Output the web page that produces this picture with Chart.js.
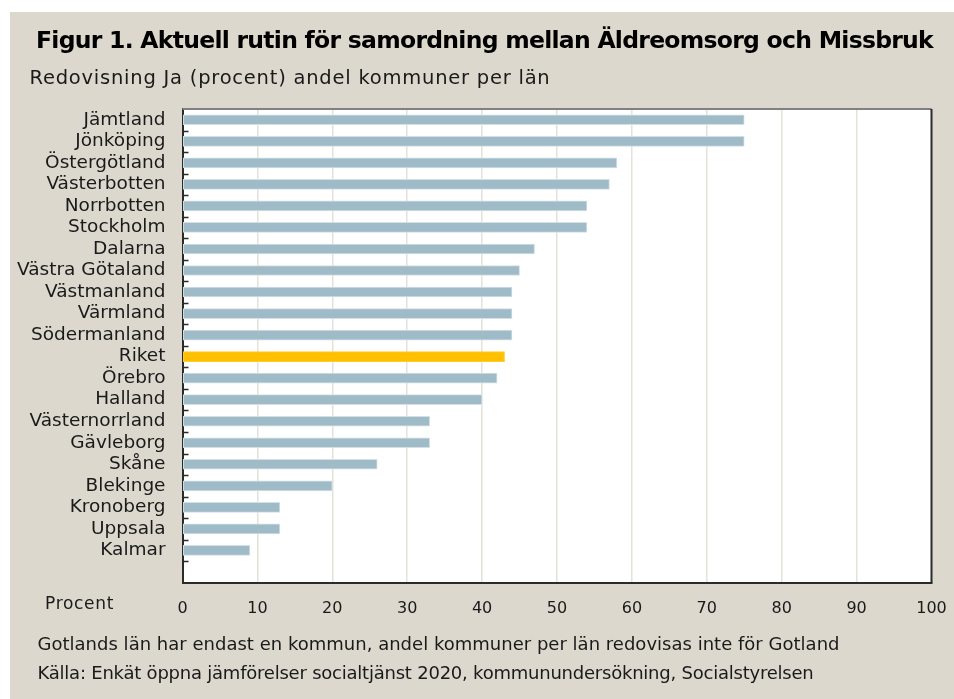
<!DOCTYPE html>
<html>
<head>
<meta charset="utf-8">
<script src="https://cdn.jsdelivr.net/npm/chart.js@4.4.1/dist/chart.umd.min.js"></script>
<style>
  body { margin: 0; background: #fff; }
  #wrap { position: relative; width: 954px; height: 699px; overflow: hidden; }
  #bg { position: absolute; left: 10px; top: 12px; right: 0; bottom: 0; background: #ddd8cd; }
  canvas { position: absolute; left: 0; top: 0; }
  .txt { position: absolute; white-space: nowrap; color: #1a1a1a; font-family: "DejaVu Sans", sans-serif; line-height: 1; }
</style>
</head>
<body>
<div id="wrap">
  <div id="bg"></div>
  <canvas id="chart" width="954" height="699"></canvas>
  <div class="txt" data-w="897" style="left:36px; top:29.4px; font-size:23.5px; font-weight:bold; color:#000;">Figur 1. Aktuell rutin för samordning mellan Äldreomsorg och Missbruk</div>
  <div class="txt" data-w="521" style="left:29.5px; top:67.8px; font-size:19.5px;">Redovisning Ja (procent) andel kommuner per län</div>
  <div class="txt" data-w="69" style="left:45px; top:594.9px; font-size:17px;">Procent</div>
  <div class="txt" data-w="802" style="left:37.5px; top:634.8px; font-size:18px;">Gotlands län har endast en kommun, andel kommuner per län redovisas inte för Gotland</div>
  <div class="txt" data-w="776" style="left:37.5px; top:664.1px; font-size:18px;">Källa: Enkät öppna jämförelser socialtjänst 2020, kommunundersökning, Socialstyrelsen</div>
</div>
<script>
// län i samma ordning som i figuren, sista raden tom (Gotland redovisas inte)
const categories = ['Jämtland', 'Jönköping', 'Östergötland', 'Västerbotten', 'Norrbotten', 'Stockholm',
  'Dalarna', 'Västra Götaland', 'Västmanland', 'Värmland', 'Södermanland', 'Riket', 'Örebro', 'Halland',
  'Västernorrland', 'Gävleborg', 'Skåne', 'Blekinge', 'Kronoberg', 'Uppsala', 'Kalmar', ''];
const values = [75, 75, 58, 57, 54, 54, 47, 45, 44, 44, 44, 43, 42, 40, 33, 33, 26, 20, 13, 13, 9, null];
const xTicks = [0, 10, 20, 30, 40, 50, 60, 70, 80, 90, 100];

const barColor = '#9fbbc7';
const riketColor = '#ffc000';

// textbredd justeras så att den motsvarar originalet
document.querySelectorAll('.txt[data-w]').forEach(el => {
  const w = el.getBoundingClientRect().width;
  el.style.letterSpacing = ((+el.dataset.w - w) / el.textContent.length) + 'px';
});

// vit plotyta, ram och små streck innanför y-axeln
const plotFrame = {
  id: 'plotFrame',
  beforeDraw(chart) {
    const { ctx, chartArea: a } = chart;
    ctx.save();
    ctx.fillStyle = '#fff';
    ctx.fillRect(a.left, a.top, a.right - a.left, a.bottom - a.top);
    ctx.restore();
  },
  afterDraw(chart) {
    const { ctx, chartArea: a } = chart;
    const y = chart.scales.y;
    ctx.save();
    ctx.lineWidth = 2;
    ctx.strokeStyle = '#808080';
    ctx.beginPath();
    ctx.moveTo(a.left, a.top);
    ctx.lineTo(a.right, a.top);
    ctx.stroke();
    ctx.strokeStyle = '#2b2b2b';
    ctx.beginPath();
    ctx.moveTo(a.right, a.top);
    ctx.lineTo(a.right, a.bottom);
    ctx.stroke();
    ctx.lineWidth = 1.5;
    ctx.beginPath();
    for (let i = 1; i < categories.length; i++) {
      const py = Math.round(y.getPixelForValue(i - 0.5)) + 0.5;
      ctx.moveTo(a.left, py);
      ctx.lineTo(a.left + 6, py);
    }
    ctx.stroke();
    ctx.restore();
  }
};

new Chart(document.getElementById('chart'), {
  type: 'bar',
  data: {
    labels: categories,
    datasets: [{
      data: values,
      backgroundColor: categories.map(c => c === 'Riket' ? riketColor : barColor),
      borderColor: categories.map(c => c === 'Riket' ? '#ffcc33' : '#d3e0e6'),
      borderWidth: 1,
      borderSkipped: false,
      barThickness: 10
    }]
  },
  options: {
    indexAxis: 'y',
    responsive: false,
    animation: false,
    events: [],
    layout: { padding: { left: 0, top: 109, right: 22.5, bottom: 76.3 } },
    scales: {
      x: {
        min: 0,
        max: 100,
        afterBuildTicks: scale => { scale.ticks = xTicks.map(v => ({ value: v })); },
        afterFit: scale => {
          scale.height = 40;
          scale.paddingLeft = 0;
          scale.paddingRight = 0;
        },
        grid: {
          color: ctx => (ctx.tick && (ctx.tick.value === 0 || ctx.tick.value === 100)) ? 'rgba(0,0,0,0)' : '#e6e1d9',
          lineWidth: 1.5,
          drawTicks: false
        },
        border: { display: true, color: '#2b2b2b', width: 2 },
        ticks: {
          padding: 17,
          color: '#1a1a1a',
          font: { family: 'DejaVu Sans', size: 16 }
        }
      },
      y: {
        afterFit: scale => { scale.width = 182.5; },
        grid: { display: true, drawOnChartArea: false, drawTicks: false },
        border: { display: true, color: '#2b2b2b', width: 2 },
        ticks: {
          padding: 17,
          autoSkip: false,
          color: '#1a1a1a',
          font: { family: 'DejaVu Sans', size: 18.5 }
        }
      }
    },
    plugins: {
      legend: { display: false },
      tooltip: { enabled: false }
    }
  },
  plugins: [plotFrame]
});
</script>
</body>
</html>
